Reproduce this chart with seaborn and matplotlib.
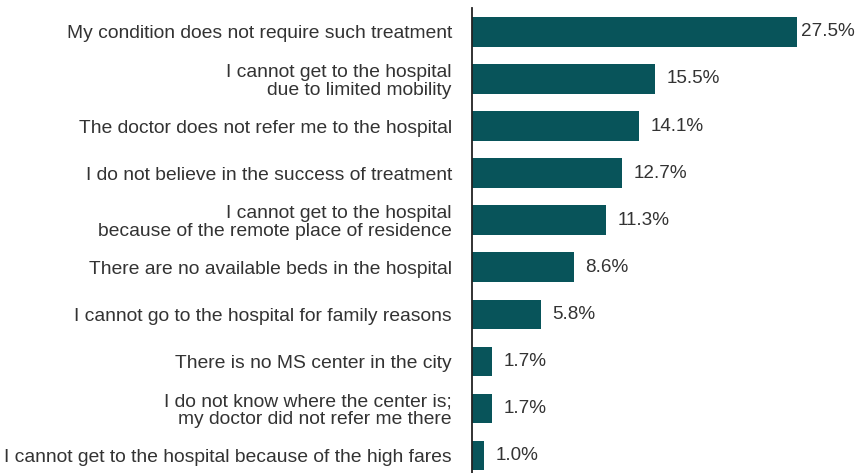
import matplotlib
matplotlib.use("Agg")
import matplotlib.pyplot as plt
import seaborn as sns
import pandas as pd

categories = [
    "My condition does not require such treatment",
    "I cannot get to the hospital\ndue to limited mobility",
    "The doctor does not refer me to the hospital",
    "I do not believe in the success of treatment",
    "I cannot get to the hospital\nbecause of the remote place of residence",
    "There are no available beds in the hospital",
    "I cannot go to the hospital for family reasons",
    "There is no MS center in the city",
    "I do not know where the center is;\nmy doctor did not refer me there",
    "I cannot get to the hospital because of the high fares",
]
values = [27.5, 15.5, 14.1, 12.7, 11.3, 8.6, 5.8, 1.7, 1.7, 1.0]
labels = ["27.5%", "15.5%", "14.1%", "12.7%", "11.3%", "8.6%", "5.8%", "1.7%", "1.7%", "1.0%"]

sns.set_theme(style="white")
plt.rcParams["font.family"] = ["Liberation Sans", "DejaVu Sans"]

df = pd.DataFrame({"reason": categories, "pct": values})

fig = plt.figure(figsize=(8.56, 4.73), dpi=100)
ax = fig.add_axes([472 / 856, 0.0, 1 - 472 / 856, 1 - 8 / 473])

color = "#08545a"
sns.barplot(data=df, y="reason", x="pct", orient="h", color=color,
            saturation=1, width=0.62, linewidth=0, ax=ax)

ax.set_xlim(0, 384 / 11.82)
ax.set_ylim(9.38, -0.51)

for i, (v, lab) in enumerate(zip(values, labels)):
    off = 3 if i == 0 else 8.5
    ax.annotate(lab, (v, i), xytext=(off, 0), textcoords="offset points",
                va="center", ha="left", fontsize=13.6, color="#333333")

ax.set_xlabel("")
ax.set_ylabel("")
ax.set_xticks([])
ax.tick_params(axis="y", length=0, pad=14.5, labelsize=13.85, labelcolor="#333333")
for lab in ax.get_yticklabels():
    lab.set_horizontalalignment("right")
    lab.set_multialignment("right")
    lab.set_linespacing(1.1)

for s in ["top", "right", "bottom"]:
    ax.spines[s].set_visible(False)
ax.spines["left"].set_color("#222222")
ax.spines["left"].set_linewidth(1.3)

fig.savefig("out.png", dpi=100)
